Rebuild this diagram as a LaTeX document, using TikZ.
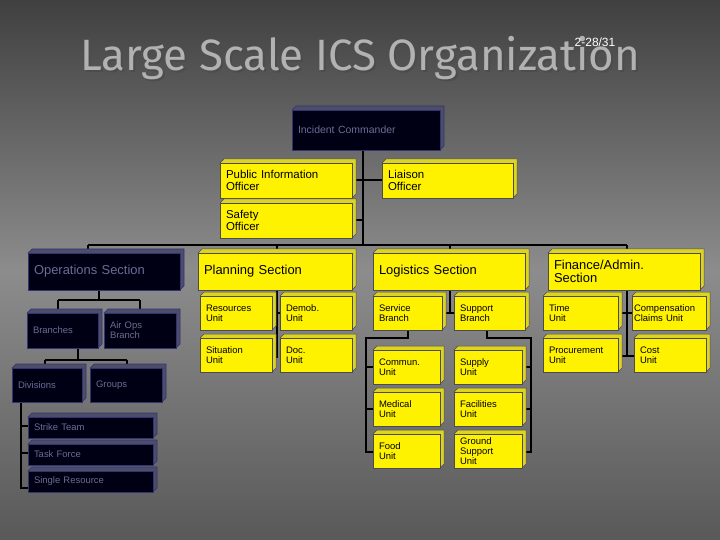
\documentclass[tikz,border=0pt]{standalone}
\usepackage{fontspec}
\setmainfont{Liberation Sans}
\newfontfamily\titlefont{Fira Sans}
\begin{document}
\begin{tikzpicture}[x=1bp,y=-1bp,
  link/.style={line width=2.6bp,black},
  ybox/.style={draw=black!70,line width=0.6bp,fill=yellow,text=black,inner sep=0,align=left,font=\fontsize{11.5}{11.5}\selectfont},
  yside/.style={draw=black!70,line width=0.5bp,fill=yellow!75!black!60!yellow},
  kbox/.style={draw=black!60!blue!60!gray,line width=0.8bp,fill=black!92!blue,text=gray!85!blue,inner sep=0,align=left,font=\fontsize{10.5}{10.5}\selectfont},
  kside/.style={draw=black!60!blue!60!gray,line width=0.6bp,fill=black!70!blue!40!gray},
  unit/.style={font=\fontsize{9.5}{10}\selectfont},
  sect/.style={font=\fontsize{13}{12.5}\selectfont}]
\newcommand\bx[8][]{%
  \filldraw[#2side] (#4,#5)--(#4+4,#5-4)--(#6+4,#5-4)--(#6+4,#7-4)--(#6,#7)--cycle;
  \node[#2box,minimum width=(#6-#4)*1bp,minimum height=(#7-#5)*1bp,text width=(#6-#4-12)*1bp,#1] (#3) at ({(#4+#6)/2},{(#5+#7)/2}) {#8};}
\shade[shading angle=120,top color=black!75,bottom color=black!65,middle color=black!45] (0,0) rectangle (720,540);
\useasboundingbox (0,0) rectangle (720,540);
\node[font=\titlefont\fontsize{44}{44}\selectfont,text=black!70] (tsh) at (362,60) {Large Scale ICS Organization};
\node[font=\titlefont\fontsize{44}{44}\selectfont,text=gray!60] (title) at (360,58) {Large Scale ICS Organization};
\node[font=\fontsize{12}{12}\selectfont,text=white] (pg) at (595,42) {2-28/31};
% connectors
\coordinate (ic) at (363,150);
\draw[link] (ic) -- (363,245);
\draw[link] (88,245) -- (627,245);
\draw[link] (352,180) -- (382,180);
\draw[link] (352,220) -- (363,220);
\draw[link] (88,245) -- (88,253);
\draw[link] (277,245) -- (277,358);
\draw[link] (450,245) -- (450,313);
\draw[link] (627,245) -- (627,356);
\draw[link] (277,313) -- (280,313);
\draw[link] (442,313) -- (454,313);
\draw[link] (618,313) -- (632,313);
\draw[link] (618,356) -- (634,356);
\draw[link] (408,330) -- (408,338) -- (366,338) -- (366,452) -- (373,452);
\draw[link] (366,367) -- (373,367);\draw[link] (366,409) -- (373,409);
\draw[link] (487,330) -- (487,338) -- (531,338) -- (531,452) -- (522,452);
\draw[link] (531,367) -- (522,367);\draw[link] (531,409) -- (522,409);
\draw[link] (99,290) -- (99,300);
\draw[link] (58,300) -- (140,300);
\draw[link] (58,300) -- (58,313);\draw[link] (140,300) -- (140,313);
\draw[link] (78,348) -- (78,360);
\draw[link] (45,360) -- (127,360);
\draw[link] (45,360) -- (45,368);\draw[link] (127,360) -- (127,368);
\draw[link] (21,402) -- (21,488) -- (28,488);
\draw[link] (21,426) -- (28,426);\draw[link] (21,453) -- (28,453);
% boxes
\bx{k}{icb}{292}{110}{440}{150}{Incident Commander}
\bx{y}{pio}{220}{163}{352}{198}{Public Information\\Officer}
\bx{y}{lo}{382}{163}{513}{198}{Liaison\\Officer}
\bx{y}{so}{220}{203}{352}{238}{Safety\\Officer}
\bx[sect]{k}{ops}{28}{253}{180}{290}{Operations Section}
\bx[sect]{y}{plan}{198}{253}{352}{290}{Planning Section}
\bx[sect]{y}{log}{373}{253}{525}{290}{Logistics Section}
\bx[sect]{y}{fin}{548}{253}{700}{290}{Finance/Admin.\\Section}
\bx[unit]{y}{res}{200}{296}{272}{330}{Resources\\Unit}
\bx[unit]{y}{dem}{280}{296}{352}{330}{Demob.\\Unit}
\bx[unit]{y}{sit}{200}{338}{272}{372}{Situation\\Unit}
\bx[unit]{y}{doc}{280}{338}{352}{372}{Doc.\\Unit}
\bx[unit]{y}{svc}{373}{296}{442}{330}{Service\\Branch}
\bx[unit]{y}{sup}{454}{296}{525}{330}{Support\\Branch}
\bx[unit]{y}{com}{373}{350}{440}{384}{Commun.\\Unit}
\bx[unit]{y}{med}{373}{392}{440}{426}{Medical\\Unit}
\bx[unit]{y}{food}{373}{434}{440}{468}{Food\\Unit}
\bx[unit]{y}{sply}{454}{350}{522}{384}{Supply\\Unit}
\bx[unit]{y}{fac}{454}{392}{522}{426}{Facilities\\Unit}
\bx[unit]{y}{gnd}{454}{434}{522}{468}{Ground\\Support\\Unit}
\bx[unit]{y}{time}{543}{296}{618}{330}{Time\\Unit}
\bx[unit,text width=70bp]{y}{comp}{632}{296}{706}{330}{Compensation\\Claims Unit}
\bx[unit]{y}{proc}{543}{338}{618}{372}{Procurement\\Unit}
\bx[unit]{y}{cost}{634}{338}{706}{372}{Cost\\Unit}
\bx[unit]{k}{br}{27}{313}{98}{348}{Branches}
\bx[unit]{k}{air}{104}{313}{176}{348}{Air Ops\\Branch}
\bx[unit]{k}{div}{12}{368}{82}{402}{Divisions}
\bx[unit]{k}{grp}{90}{368}{162}{402}{Groups}
\bx[unit]{k}{st}{28}{417}{153}{438}{Strike Team}
\bx[unit]{k}{tf}{28}{444}{153}{465}{Task Force}
\bx[unit]{k}{sr}{28}{471}{153}{492}{Single Resource}
\end{tikzpicture}
\end{document}
